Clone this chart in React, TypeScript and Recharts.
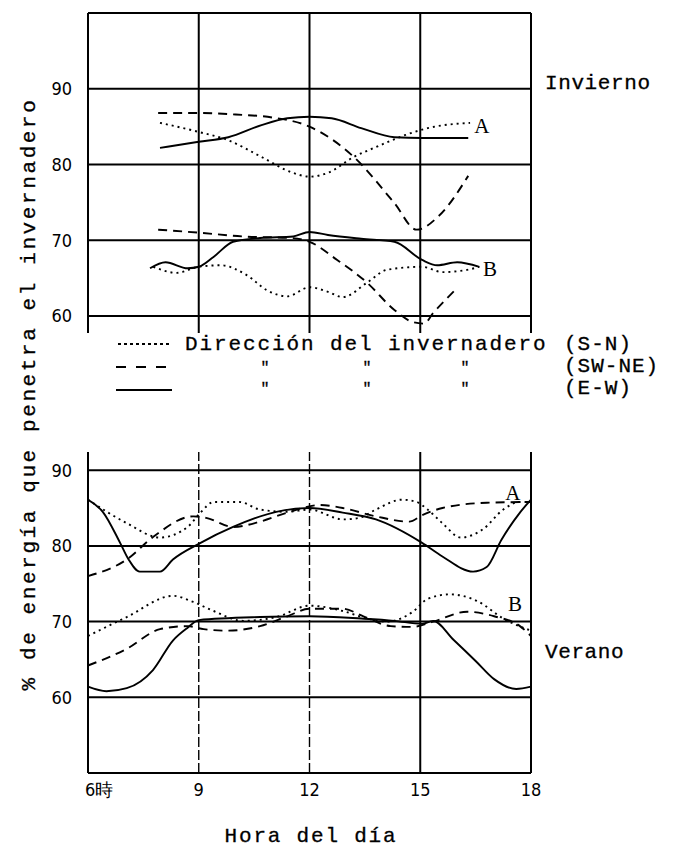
import React from "react"
import { LineChart, Line, XAxis, YAxis, ReferenceLine, ReferenceDot, Label } from "recharts"

type Pt = [number, number]

const hourTicks = [6, 9, 12, 15, 18]
const hourLabels = ["6時", "9", "12", "15", "18"]
const pctTicks = [60, 70, 80, 90]
const winterGridY = [60, 70, 80, 90, 100]
const summerGridY = [60, 70, 80, 90]

// Invierno, curva A
const winterA_SN: Pt[] = [[7.95, 85.5], [9, 84.3], [9.8, 83.2], [10.7, 81], [11.5, 79], [12, 78.4], [12.5, 78.9], [13.2, 81], [13.8, 82.3], [14.6, 83.9], [15.2, 84.8], [16.35, 85.5]]
const winterA_SWNE: Pt[] = [[7.9, 86.8], [9, 86.8], [10, 86.6], [11, 86.2], [12, 85], [13.2, 81], [14.3, 74.9], [14.9, 71.4], [15.5, 73.2], [16.3, 78.5]]
const winterA_EW: Pt[] = [[7.95, 82.2], [9, 83], [9.8, 83.6], [10.7, 85.2], [11.4, 86.1], [12, 86.3], [12.6, 86.1], [13.4, 84.8], [14.3, 83.6], [15.05, 83.5], [16.3, 83.5]]

// Invierno, curva B
const winterB_SN: Pt[] = [[7.77, 66.5], [8.4, 65.7], [9, 66.5], [9.6, 66.7], [10.3, 65.4], [10.85, 63.4], [11.4, 62.6], [12, 63.8], [12.5, 63.2], [12.9, 62.5], [13.56, 64.4], [14.1, 66.1], [15.05, 66.5], [15.6, 65.8], [16.27, 66.1], [16.6, 66.5]]
const winterB_SWNE: Pt[] = [[7.9, 71.4], [9, 71], [10.2, 70.5], [11.5, 70.3], [12, 69.8], [12.75, 67.4], [13.56, 64.4], [14.3, 60.8], [14.8, 59.2], [15.1, 59], [15.35, 60.4], [16, 63.7]]
const winterB_EW: Pt[] = [[7.68, 66.3], [8.1, 67.1], [8.7, 66.3], [9, 66.5], [9.4, 67.8], [9.93, 69.8], [10.66, 70.3], [11.56, 70.5], [12, 71.1], [12.5, 70.7], [13.4, 70.2], [14.3, 69.8], [15.05, 67.4], [15.46, 66.7], [16, 67.1], [16.6, 66.5]]

// Verano, curva A
const summerA_SN: Pt[] = [[6, 86.1], [7.05, 83], [7.95, 81.1], [8.7, 82.5], [9.05, 84.4], [9.4, 85.8], [10.1, 85.8], [10.66, 84.8], [11.4, 84.5], [12, 84.8], [12.9, 83.5], [13.35, 83.7], [13.8, 84.8], [14.5, 86.1], [14.9, 85.8], [15.2, 84.8], [15.6, 83], [16.1, 81.1], [16.7, 82.2], [17.25, 84.8], [17.7, 85.8], [18, 85.8]]
const summerA_SWNE: Pt[] = [[6, 76], [7.05, 78.2], [7.77, 81.2], [8.85, 83.9], [9.2, 83.7], [9.93, 82.5], [10.66, 83.2], [11.4, 84.4], [12.3, 85.4], [12.9, 85], [13.8, 83.9], [14.7, 83.2], [15.07, 84.1], [15.6, 85], [16.8, 85.7], [18, 85.8]]
const summerA_EW: Pt[] = [[6, 86.1], [6.4, 84.5], [6.87, 80.4], [7.1, 78.2], [7.4, 76.6], [7.95, 76.6], [8.3, 78.2], [9.05, 80.4], [9.93, 82.5], [11.1, 84.5], [12, 85], [12.9, 84.4], [13.8, 83.5], [15.05, 80.4], [15.6, 78.6], [16.43, 76.6], [16.8, 77.2], [17.2, 80.8], [17.7, 84.4], [18, 86.1]]

// Verano, curva B
const summerB_SN: Pt[] = [[6, 68.1], [7.05, 70.6], [8.3, 73.4], [8.85, 72.6], [9.4, 71.4], [10.2, 70.1], [11.1, 70.6], [12, 72.1], [12.9, 71.4], [13.56, 70.4], [14.1, 70], [14.8, 71.3], [15.2, 73], [15.8, 73.6], [16.55, 72.7], [17.25, 70.4], [18, 68.8]]
const summerB_SWNE: Pt[] = [[6, 64.2], [7.05, 66.4], [7.95, 69], [8.7, 69.4], [9.13, 69], [9.77, 68.8], [10.66, 69.4], [11.4, 70.7], [12, 71.7], [12.9, 71.7], [13.46, 70.7], [14.2, 69.4], [14.8, 69.3], [15.35, 70], [16.27, 71.3], [17, 70.7], [17.7, 69.4], [18, 68.1]]
const summerB_EW: Pt[] = [[6, 61.4], [6.5, 60.8], [7.05, 61.2], [7.76, 63.6], [8.3, 67.5], [8.7, 69.2], [9, 70.2], [10.66, 70.6], [12, 70.7], [13.4, 70.4], [14.3, 70.1], [15.05, 69.7], [15.35, 70.1], [15.9, 67.6], [16.5, 64.8], [17, 62.4], [17.6, 61.1], [18, 61.4]]

const toRows = (pts: Pt[]) => pts.map(([h, v]) => ({ h, v }))

const dash = { SN: "2 4", SWNE: "9 6", EW: undefined as string | undefined }

const mono = "'Liberation Mono', 'DejaVu Sans Mono', monospace"
const narrow = "'Liberation Sans Narrow', 'DejaVu Sans Condensed', 'Liberation Sans', sans-serif"
const serif = "'Liberation Serif', 'DejaVu Serif', serif"

const series = (pts: Pt[], kind: keyof typeof dash, key: string) => (
  <Line
    key={key}
    data={toRows(pts)}
    dataKey="v"
    type="monotone"
    stroke="#000"
    strokeWidth={1.9}
    strokeDasharray={dash[kind]}
    dot={false}
    activeDot={false}
    isAnimationActive={false}
  />
)

const curveLabel = (h: number, v: number, text: string) => (
  <ReferenceDot x={h} y={v} r={0} fill="none" stroke="none" ifOverflow="visible">
    <Label value={text} position="center" style={{ fontFamily: serif, fontSize: 21, fill: "#000" }} />
  </ReferenceDot>
)

const HourTick = (props: any) => {
  const { x, y, index } = props
  const first = index === 0
  return (
    <text x={first ? x - 3 : x} y={y + 10} textAnchor={first ? "start" : "middle"} dominantBaseline="middle" fontFamily={narrow} fontSize={18} fill="#000">
      {hourLabels[index]}
    </text>
  )
}

const yTick = { fontFamily: narrow, fontSize: 18, fill: "#000" }

const quoteX = [265, 367, 465]

export default function App() {
  return (
    <div style={{ position: "absolute", left: 0, top: 0, width: 692, height: 851, background: "#fff" }}>
      <div style={{ position: "absolute", left: 0, top: 0 }}>
        <LineChart width={692} height={345} margin={{ top: 13, right: 161, bottom: 12, left: 48 }}>
          <XAxis type="number" dataKey="h" domain={[6, 18]} ticks={hourTicks} hide />
          <YAxis type="number" domain={[57.76, 100]} ticks={pctTicks} width={40} tickLine={false} axisLine={false} tickMargin={10} tick={yTick} />
          {winterGridY.map((v) => (
            <ReferenceLine key={"wy" + v} y={v} stroke="#000" strokeWidth={2} />
          ))}
          {hourTicks.map((h) => (
            <ReferenceLine key={"wx" + h} x={h} stroke="#000" strokeWidth={2} />
          ))}
          {series(winterA_SN, "SN", "wasn")}
          {series(winterA_SWNE, "SWNE", "wasw")}
          {series(winterA_EW, "EW", "waew")}
          {series(winterB_SN, "SN", "wbsn")}
          {series(winterB_SWNE, "SWNE", "wbsw")}
          {series(winterB_EW, "EW", "wbew")}
          {curveLabel(16.67, 85.2, "A")}
          {curveLabel(16.89, 66.3, "B")}
        </LineChart>
      </div>
      <div style={{ position: "absolute", left: 0, top: 440 }}>
        <LineChart width={692} height={411} margin={{ top: 12, right: 161, bottom: 48, left: 48 }}>
          <XAxis type="number" dataKey="h" domain={[6, 18]} ticks={hourTicks} height={30} tickLine={false} axisLine={{ stroke: "#000", strokeWidth: 2 }} tick={<HourTick />} interval={0} />
          <YAxis type="number" domain={[50, 92.4]} ticks={pctTicks} width={40} tickLine={false} axisLine={false} tickMargin={10} tick={yTick} />
          {summerGridY.map((v) => (
            <ReferenceLine key={"sy" + v} y={v} stroke="#000" strokeWidth={2} />
          ))}
          {hourTicks.map((h) => (
            <ReferenceLine key={"sx" + h} x={h} stroke="#000" strokeWidth={h === 9 || h === 12 ? 1.4 : 2} strokeDasharray={h === 9 || h === 12 ? "10 3" : undefined} />
          ))}
          {series(summerA_SN, "SN", "sasn")}
          {series(summerA_SWNE, "SWNE", "sasw")}
          {series(summerA_EW, "EW", "saew")}
          {series(summerB_SN, "SN", "sbsn")}
          {series(summerB_SWNE, "SWNE", "sbsw")}
          {series(summerB_EW, "EW", "sbew")}
          {curveLabel(17.51, 87.1, "A")}
          {curveLabel(17.57, 72.4, "B")}
        </LineChart>
      </div>
      <svg width={692} height={851} style={{ position: "absolute", left: 0, top: 0, pointerEvents: "none" }}>
        <g fontFamily={mono} fontSize={21} fill="#000" stroke="#000" strokeWidth={0.3}>
          <text x={29} y={394} textAnchor="middle" dominantBaseline="middle" letterSpacing={2.6} transform="rotate(-90 29 394)">
            % de energía que penetra el invernadero
          </text>
          <text x={545} y={83} dominantBaseline="middle" letterSpacing={0.6}>Invierno</text>
          <text x={545} y={652} dominantBaseline="middle" letterSpacing={0.6}>Verano</text>
          <text x={311} y={836} textAnchor="middle" dominantBaseline="middle" letterSpacing={1.8}>Hora del día</text>

          <line x1={118} x2={172} y1={344} y2={344} strokeWidth={1.8} strokeDasharray="3 3" />
          <text x={185} y={344} dominantBaseline="middle" letterSpacing={1.9}>Dirección del invernadero</text>
          <text x={564} y={344} dominantBaseline="middle" letterSpacing={1}>(S-N)</text>

          <line x1={116} x2={174} y1={367} y2={367} strokeWidth={1.8} strokeDasharray="10 10" />
          {quoteX.map((x) => (
            <text key={"q2" + x} x={x} y={368} textAnchor="middle" dominantBaseline="middle" fontSize={15}>"</text>
          ))}
          <text x={564} y={366} dominantBaseline="middle" letterSpacing={1}>(SW-NE)</text>

          <line x1={116} x2={172} y1={390} y2={390} strokeWidth={1.8} />
          {quoteX.map((x) => (
            <text key={"q3" + x} x={x} y={389} textAnchor="middle" dominantBaseline="middle" fontSize={15}>"</text>
          ))}
          <text x={564} y={388} dominantBaseline="middle" letterSpacing={1}>(E-W)</text>
        </g>
      </svg>
    </div>
  )
}
